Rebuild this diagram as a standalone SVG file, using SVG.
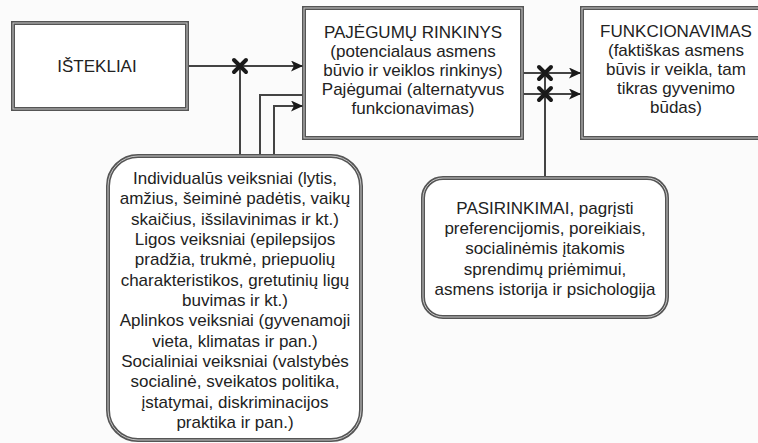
<svg xmlns="http://www.w3.org/2000/svg" width="758" height="443" viewBox="0 0 758 443">
<defs>
<style>
.bg{fill:#fbfbfb}
.box{fill:#fff;stroke:#555;stroke-width:4}
.inner{fill:none;stroke:#c8c8c8;stroke-width:1}
.t{font-family:"Liberation Sans",Arial,sans-serif;font-size:17px;fill:#222;text-anchor:middle}
.ln{fill:none;stroke:#444;stroke-width:2}
.x{stroke:#1a1a1a;stroke-width:4;stroke-linecap:round}
</style>
<marker id="ah" markerWidth="12" markerHeight="11" refX="11" refY="5.5" orient="auto" markerUnits="userSpaceOnUse">
<path d="M0,0 L12,5.5 L0,11 L3,5.5 Z" fill="#1a1a1a"/>
</marker>
</defs>
<rect class="bg" x="0" y="0" width="758" height="443"/>

<g id="istekliai">
<rect class="box" x="13" y="23" width="174" height="86"/>
<rect class="inner" x="13" y="23" width="174" height="86"/>
<text class="t" x="97" y="72">IŠTEKLIAI</text>
</g>

<g id="pajegumu-rinkinys">
<rect class="box" x="304" y="8" width="218" height="130"/>
<rect class="inner" x="304" y="8" width="218" height="130"/>
<text class="t" x="413" y="38">PAJĖGUMŲ RINKINYS</text>
<text class="t" x="413" y="57">(potencialaus asmens</text>
<text class="t" x="413" y="76">būvio ir veiklos rinkinys)</text>
<text class="t" x="413" y="95">Pajėgumai  (alternatyvus</text>
<text class="t" x="413" y="114">funkcionavimas)</text>
</g>

<g id="funkcionavimas">
<rect class="box" x="582" y="8" width="190" height="130"/>
<rect class="inner" x="582" y="8" width="190" height="130"/>
<text class="t" x="676" y="37">FUNKCIONAVIMAS</text>
<text class="t" x="676" y="56">(faktiškas asmens</text>
<text class="t" x="676" y="75">būvis ir veikla, tam</text>
<text class="t" x="676" y="94">tikras gyvenimo</text>
<text class="t" x="676" y="113">būdas)</text>
</g>

<g id="veiksniai">
<rect class="box" x="108" y="156" width="253" height="284" rx="30" ry="30"/>
<rect class="inner" x="108" y="156" width="253" height="284" rx="30" ry="30"/>
<text class="t" x="235" y="184">Individualūs veiksniai (lytis,</text>
<text class="t" x="235" y="204">amžius, šeiminė padėtis, vaikų</text>
<text class="t" x="235" y="225">skaičius, išsilavinimas ir kt.)</text>
<text class="t" x="235" y="245">Ligos veiksniai (epilepsijos</text>
<text class="t" x="235" y="265">pradžia, trukmė, priepuolių</text>
<text class="t" x="235" y="286">charakteristikos, gretutinių ligų</text>
<text class="t" x="235" y="306">buvimas ir kt.)</text>
<text class="t" x="235" y="326">Aplinkos veiksniai (gyvenamoji</text>
<text class="t" x="235" y="347">vieta, klimatas ir pan.)</text>
<text class="t" x="235" y="367">Socialiniai veiksniai (valstybės</text>
<text class="t" x="235" y="387">socialinė, sveikatos politika,</text>
<text class="t" x="235" y="408">įstatymai, diskriminacijos</text>
<text class="t" x="235" y="428">praktika ir pan.)</text>
</g>

<g id="pasirinkimai">
<rect class="box" x="423" y="178" width="244" height="139" rx="20" ry="20"/>
<rect class="inner" x="423" y="178" width="244" height="139" rx="20" ry="20"/>
<text class="t" x="545" y="214">PASIRINKIMAI, pagrįsti</text>
<text class="t" x="545" y="234">preferencijomis, poreikiais,</text>
<text class="t" x="545" y="254">socialinėmis įtakomis</text>
<text class="t" x="545" y="275">sprendimų priėmimui,</text>
<text class="t" x="545" y="295">asmens istorija ir psichologija</text>
</g>

<g id="connectors">
<path class="ln" d="M189,66 H302" marker-end="url(#ah)"/>
<path class="ln" d="M240,66 V154"/>
<path class="ln" d="M260,154 V95 H302"/>
<path class="ln" d="M274,154 V106 H302" marker-end="url(#ah)"/>
<path class="ln" d="M524,73 H580" marker-end="url(#ah)"/>
<path class="ln" d="M524,94 H580" marker-end="url(#ah)"/>
<path class="ln" d="M545,73 V176"/>
<g class="x">
<path d="M234,60 L246,72 M246,60 L234,72"/>
<path d="M539,67 L551,79 M551,67 L539,79"/>
<path d="M539,88 L551,100 M551,88 L539,100"/>
</g>
</g>
</svg>
